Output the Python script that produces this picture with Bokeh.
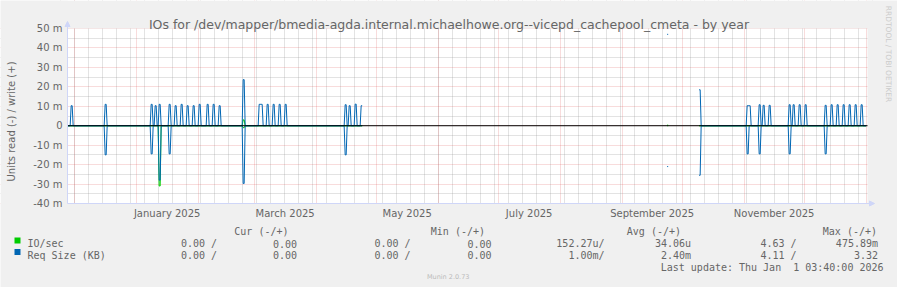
import numpy as np
import pandas as pd
from bokeh.plotting import figure
from bokeh.models import (Range1d, FixedTicker, DatetimeTickFormatter, CustomJSTickFormatter,
                          Label, Arrow, NormalHead, BoxAnnotation)
from bokeh.embed import file_html
from bokeh.resources import INLINE

# ---------------- data ----------------
title_text = "IOs for /dev/mapper/bmedia-agda.internal.michaelhowe.org--vicepd_cachepool_cmeta - by year"
y_label = "Units read (-) / write (+)"
range_start = "2024-11-27 16:00"
range_end = "2026-01-01 16:00"
# periods where data is known (outside: unknown -> gaps)
known_spans = [("2024-11-27", "2025-04-23"), ("2025-09-23", "2025-09-23"), ("2025-10-09", "2026-01-01")]

# Req Size (KB) - write (+), values in milli units
req_write_dates = ["2024-11-29", "2024-12-16", "2025-01-08", "2025-01-10", "2025-01-12", "2025-01-17",
                   "2025-01-20", "2025-01-23", "2025-01-26", "2025-01-29", "2025-02-01", "2025-02-05",
                   "2025-02-08", "2025-02-11", "2025-02-23", "2025-03-03", "2025-03-04", "2025-03-07",
                   "2025-03-10", "2025-03-13", "2025-03-16", "2025-04-15", "2025-04-17", "2025-04-20",
                   "2025-04-23", "2025-09-23", "2025-10-09", "2025-11-02", "2025-11-03", "2025-11-08",
                   "2025-11-10", "2025-11-13", "2025-11-23", "2025-11-25", "2025-11-28", "2025-12-01",
                   "2025-12-11", "2025-12-14", "2025-12-17", "2025-12-20", "2025-12-23", "2025-12-26",
                   "2025-12-29"]
req_write_vals = [10.3, 11.0, 11.0, 10.3, 11.0, 11.0, 10.3, 11.0, 10.3, 10.3, 11.0, 11.0,
                  11.0, 10.3, 23.7, 11.0, 11.0, 11.0, 11.0, 11.0, 11.0, 10.8, 10.3, 11.1,
                  10.3, 47.0, 18.5, 10.3, 10.3, 10.8, 10.5, 10.5, 10.8, 10.8, 10.8, 10.8,
                  10.5, 10.8, 10.8, 10.8, 10.8, 10.8, 10.8]
# Req Size (KB) - read (-)
req_read_dates = ["2024-12-16", "2025-01-08", "2025-01-12", "2025-01-17", "2025-02-23", "2025-04-15",
                  "2025-09-23", "2025-10-09", "2025-11-02", "2025-11-08", "2025-11-23", "2025-12-11"]
req_read_vals = [15.0, 14.5, 28.0, 14.5, 29.7, 15.0, 21.0, 25.5, 14.5, 14.5, 14.5, 14.5]
# IO/sec
io_write_dates = ["2025-02-23", "2025-09-23"]
io_write_vals = [3.0, 0.3]
io_read_dates = ["2025-01-12", "2025-02-23"]
io_read_vals = [31.0, 1.0]

y_min, y_max = -40, 50
y_major = [-40, -30, -20, -10, 0, 10, 20, 30, 40, 50]
y_minor = [-35, -25, -15, -5, 5, 15, 25, 35, 45]
month_labels = ["January 2025", "March 2025", "May 2025", "July 2025", "September 2025", "November 2025"]
label_months = ["2025-01", "2025-03", "2025-05", "2025-07", "2025-09", "2025-11"]

legend_header = ["Cur (-/+)", "Min (-/+)", "Avg (-/+)", "Max (-/+)"]
legend_names = ["IO/sec", "Req Size (KB)"]
legend_colors = ["#00CC00", "#0066B3"]
legend_rows = [["0.00 /", "0.00", "0.00 /", "0.00", "152.27u/", "34.06u", "4.63 /", "475.89m"],
               ["0.00 /", "0.00", "0.00 /", "0.00", "1.00m/", "2.40m", "4.11 /", "3.32"]]
last_update = "Last update: Thu Jan \u00a01 03:40:00 2026"
footer = "Munin 2.0.73"
side_text = "RRDTOOL / TOBI OETIKER"

# ---------------- layout constants (canvas px) ----------------
W, H = 897, 287
PL, PR, PT, PB = 67, 867, 28, 203   # data area edges
FONT = "#666666"
AXIS = "#CFD6F8"
BG = "#F0F0F0"

t0 = pd.Timestamp(range_start)
t1 = pd.Timestamp(range_end)
day = pd.Timedelta(days=1)
px_per_day = (PR - PL) / ((t1 - t0) / day)
m_per_px = (y_max - y_min) / (PB - PT)
x_lo = t0 - day * (PL / px_per_day)
x_hi = t1 + day * ((W - PR) / px_per_day)
y_lo = y_min - (H - PB) * m_per_px
y_hi = y_max + PT * m_per_px

p = figure(width=W, height=H, x_axis_type="datetime", output_backend="svg",
           toolbar_location=None, x_range=Range1d(x_lo, x_hi), y_range=Range1d(y_lo, y_hi),
           min_border=0)
p.background_fill_color = "white"
p.border_fill_color = BG
p.outline_line_color = None
p.title.visible = False

# ---------------- grids ----------------
month_starts = pd.date_range("2024-12-01", "2026-01-01", freq="MS")
sundays = pd.date_range("2024-11-24", "2026-01-04", freq="W-SUN")
ms = lambda idx: [int(pd.Timestamp(t).value // 10**6) for t in idx]
p.xgrid.ticker = FixedTicker(ticks=ms(month_starts), minor_ticks=ms(sundays))
p.ygrid.ticker = FixedTicker(ticks=y_major, minor_ticks=y_minor)
for g in (p.xgrid, p.ygrid):
    g.grid_line_color = "#DE4F4F"
    g.grid_line_alpha = 0.4
    g.grid_line_dash = "1 1"
    g.minor_grid_line_color = "#8F8F8F"
    g.minor_grid_line_alpha = 0.5
    g.minor_grid_line_dash = "1 1"

# background outside the data area
for kw in (dict(bottom=y_max), dict(top=y_min), dict(right=t0), dict(left=t1)):
    p.add_layout(BoxAnnotation(fill_color=BG, fill_alpha=1.0, line_color=None, line_alpha=0,
                               level="underlay", **kw))

# ---------------- axes (fixed at the data-area edges) ----------------
mids = []
for m in label_months:
    a = pd.Timestamp(m + "-01")
    b = a + pd.offsets.MonthBegin(1)
    mids.append(a + (b - a) / 2)
mid_ms = ms(mids)
p.xaxis.ticker = FixedTicker(ticks=mid_ms)
fmt = "%B %Y"
p.xaxis.formatter = DatetimeTickFormatter(microseconds=fmt, milliseconds=fmt, seconds=fmt, minsec=fmt,
                                          minutes=fmt, hourmin=fmt, hours=fmt, days=fmt,
                                          months=fmt, years=fmt)
p.xaxis.major_label_overrides = {k: v for k, v in zip(mid_ms, month_labels)}
p.xaxis.fixed_location = y_min
p.yaxis.ticker = FixedTicker(ticks=y_major)
p.yaxis.formatter = CustomJSTickFormatter(code="return tick == 0 ? '0' : tick + ' m'")
p.yaxis.fixed_location = int(t0.value // 10**6)
for ax in (p.xaxis, p.yaxis):
    ax.axis_line_color = None
    ax.major_tick_out = 0
    ax.major_tick_in = 0
    ax.minor_tick_out = 0
    ax.minor_tick_in = 0
    ax.major_label_text_font = "DejaVu Sans"
    ax.major_label_text_font_size = "10px"
    ax.major_label_text_color = FONT
p.xaxis.major_label_standoff = 4
p.yaxis.major_label_standoff = 5

# ---------------- series ----------------
days = pd.date_range("2024-11-27", "2025-12-31", freq="D")


def build(dates, vals, sign):
    s = pd.Series(np.nan, index=days)
    for a, b in known_spans:
        s[a:b] = 0.0
    for d, v in zip(dates, vals):
        s[pd.Timestamp(d)] = sign * v
    xs = np.repeat(days.values, 2) + np.tile(
        np.array([np.timedelta64(12, "h"), np.timedelta64(24, "h")]), len(days))
    ys = np.repeat(s.values, 2)
    return xs, ys


for dates, vals, sign, col in [(io_write_dates, io_write_vals, 1, "#00CC00"),
                               (io_read_dates, io_read_vals, -1, "#00CC00"),
                               (req_write_dates, req_write_vals, 1, "#0066B3"),
                               (req_read_dates, req_read_vals, -1, "#0066B3")]:
    xs, ys = build(dates, vals, sign)
    p.line(xs, ys, line_color=col, line_width=1)

# zero rule across the data area
p.segment(x0=[t0], y0=[0], x1=[t1], y1=[0], line_color="black", line_width=1)

# axis lines with arrows (screen units = canvas px, y measured from bottom)
head = dict(size=5, fill_color=AXIS, line_color=AXIS)
p.add_layout(Arrow(end=NormalHead(**head), line_color=AXIS, x_start=PL, y_start=H - PB,
                   x_end=PL, y_end=H - 21, start_units="screen", end_units="screen"))
p.add_layout(Arrow(end=NormalHead(**head), line_color=AXIS, x_start=PL, y_start=H - PB,
                   x_end=874, y_end=H - PB, start_units="screen", end_units="screen"))


def lab(text, cx, cy, size="10px", font="DejaVu Sans Mono", align="left", baseline="alphabetic",
        color=FONT, angle=0.0):
    p.add_layout(Label(x=cx, y=H - cy, x_units="screen", y_units="screen", text=text,
                       text_font=font, text_font_size=size, text_align=align,
                       text_baseline=baseline, text_color=color, angle=angle))


lab(title_text, 448.5, 23.5, size="12.5px", font="DejaVu Sans", align="center")
lab(y_label, 11, 121, font="DejaVu Sans", align="center", baseline="middle", angle=np.pi / 2)
lab(side_text, 887.5, 53.5, size="7.5px", font="DejaVu Sans", align="center",
    baseline="middle", color="#CCCCCC", angle=-np.pi / 2)

# ---------------- legend ----------------
header_right = [288, 484.5, 680.5, 876.5]
for t, xr in zip(legend_header, header_right):
    lab(t, xr, 231, align="right")
col_right = [216.5, 296.5, 410, 491, 604, 690.5, 796, 877.5]
row_base = [243, 254.5]
for name, colr, vals, yb in zip(legend_names, legend_colors, legend_rows, row_base):
    p.add_layout(BoxAnnotation(left=14, right=20, top=H - (yb - 6), bottom=H - yb,
                               left_units="screen", right_units="screen", top_units="screen",
                               bottom_units="screen", fill_color=colr, fill_alpha=1.0,
                               line_color=None, line_alpha=0))
    lab(name, 27, yb)
    for v, xr in zip(vals, col_right):
        lab(v, xr, yb, align="right")
lab(last_update, 883, 267, align="right")
lab(footer, 447.7, 276, size="6.5px", font="DejaVu Sans", align="center",
    baseline="middle", color="#BBBBBB")

open("out.html", "w").write(file_html(p, INLINE))
